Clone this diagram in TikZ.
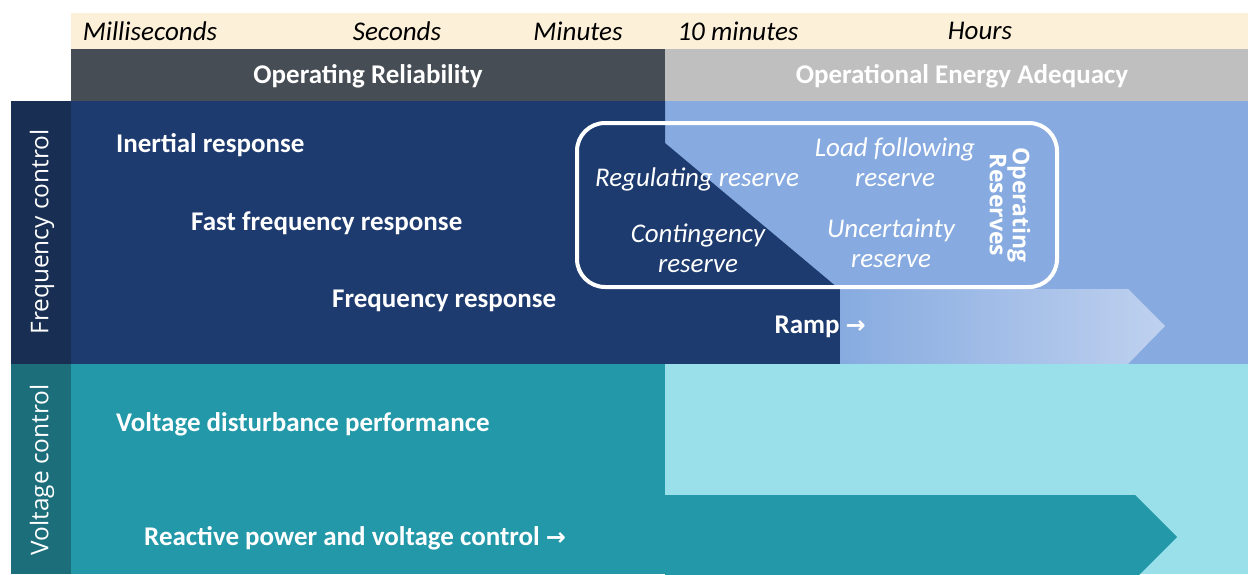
\documentclass[tikz,border=0pt]{standalone}
\usepackage{fontspec}
\setmainfont{Carlito}
\newfontfamily\osans{Open Sans}
\newfontfamily\dv{DejaVu Sans}
\definecolor{cream}{HTML}{FDF0D9}
\definecolor{hdrdark}{HTML}{474D55}
\definecolor{hdrlight}{HTML}{BFBFBF}
\definecolor{navy}{HTML}{1D3B6F}
\definecolor{navyside}{HTML}{182E52}
\definecolor{lblue}{HTML}{87ABE0}
\definecolor{lblueB}{HTML}{BFD1EF}
\definecolor{tealm}{HTML}{2298A9}
\definecolor{tealside}{HTML}{1B6E7A}
\definecolor{cyanl}{HTML}{99E0EA}
\tikzset{
  timelab/.style={font=\itshape\fontsize{27}{29}\selectfont, text=black, inner sep=0pt},
  bandlab/.style={font=\bfseries\fontsize{27}{29}\selectfont, text=white, inner sep=0pt},
  rowlab/.style={font=\bfseries\fontsize{27}{30}\selectfont, text=white, anchor=west, inner sep=0pt},
  reslab/.style={font=\itshape\fontsize{27}{30}\selectfont, text=white, align=center, inner sep=0pt},
  sidelab/.style={font=\osans\fontsize{24.4}{26}\selectfont, text=white, rotate=90, inner sep=0pt},
}
\begin{document}
\begin{tikzpicture}[x=1pt,y=-1pt]
\useasboundingbox (0,0) rectangle (1248,574);
% header
\fill[cream] (71,13) rectangle (1248,49);
\fill[hdrdark] (71,49) rectangle (665,101);
\fill[hdrlight] (665,49) rectangle (1248,101);
% frequency region
\fill[lblue] (665,101) rectangle (1248,364);
\fill[navy] (71,101) -- (665,101) -- (665,143) -- (838,288) -- (840,288) -- (840,364) -- (71,364) -- cycle;
\shade[left color=lblue, right color=lblueB] (840,289) -- (1128,289) -- (1165,326) -- (1128,364) -- (840,364) -- cycle;
\fill[navyside] (11,101) rectangle (71,364);
% voltage region
\fill[cyanl] (665,364) rectangle (1248,574);
\fill[tealm] (71,364) rectangle (665,574);
\begin{scope}
\clip (0,0) rectangle (1248,574);
\fill[tealm] (665,495) -- (1135,495) -- (1177,537) -- (1135,579) -- (665,579) -- cycle;
\end{scope}
\fill[tealside] (11,364) rectangle (71,574);
% reserves box
\draw[white, line width=4pt, rounded corners=28pt] (577,123) rectangle (1057,287);
% time labels
\node[timelab] (ms) at (150,31) {Milliseconds};
\node[timelab] (sec) at (397,31) {Seconds};
\node[timelab] (min) at (578,31) {Minutes};
\node[timelab] (tenmin) at (738,31) {10 minutes};
\node[timelab] (hrs) at (980,31) {Hours};
\node[bandlab] (opr) at (368,76) {Operating Reliability};
\node[bandlab] (oea) at (962,76) {Operational Energy Adequacy};
% side labels
\node[sidelab] (fc) at (42,232) {Frequency control};
\node[sidelab] (vc) at (42,470) {Voltage control};
% row labels
\node[rowlab] (inr) at (116,145) {Inertial response};
\node[rowlab] (ffr) at (191,223) {Fast frequency response};
\node[rowlab] (fr) at (332,301) {Frequency response};
\node[rowlab, anchor=east] (ramp) at (866,327) {Ramp {\dv\fontsize{24}{26}\selectfont →}};
\node[rowlab] (vdp) at (116,424) {Voltage disturbance performance};
\node[rowlab] (rpv) at (144,538) {Reactive power and voltage control {\dv\fontsize{24}{26}\selectfont →}};
% reserves
\node[reslab] (reg) at (697,179) {Regulating reserve};
\node[reslab] (cont) at (698,248) {Contingency\\reserve};
\node[reslab] (lf) at (895,162) {Load following\\reserve};
\node[reslab] (unc) at (891,243) {Uncertainty\\reserve};
\node[font=\osans\bfseries\fontsize{23}{23}\selectfont, text=white, rotate=-90, align=center, inner sep=0pt] (opres) at (1010,205) {Operating\\Reserves};
\end{tikzpicture}
\end{document}
